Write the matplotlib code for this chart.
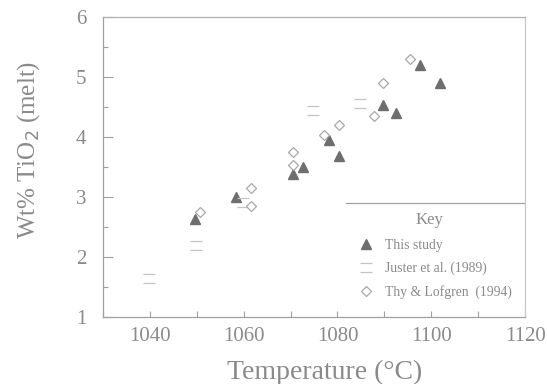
import numpy as np
import matplotlib
matplotlib.use('Agg')
import matplotlib.pyplot as plt
from matplotlib.path import Path

plt.rcParams['font.family'] = ['Liberation Serif', 'DejaVu Serif']

# TiO2 in melt vs temperature
this_study_T = [1049.7, 1058.4, 1070.6, 1072.7, 1078.3, 1080.4, 1089.8, 1092.5, 1097.5, 1101.8]
this_study_ti = [2.64, 3.00, 3.38, 3.51, 3.95, 3.68, 4.54, 4.41, 5.21, 4.91]

juster_T = [1039.8, 1049.9, 1059.9, 1074.8, 1084.9]
juster_ti = [1.65, 2.21, 2.92, 4.46, 4.57]

thy_T = [1050.8, 1061.6, 1061.5, 1070.6, 1070.6, 1077.2, 1080.4, 1087.7, 1089.8, 1095.4]
thy_ti = [2.76, 3.15, 2.86, 3.75, 3.53, 4.04, 4.20, 4.36, 4.91, 5.31]

labels = ['This study', 'Juster et al. (1989)', 'Thy & Lofgren  (1994)']

grey = '#8a8a8a'
frame_col = '#a0a0a0'

# open box drawn as two horizontal bars
bars = Path([(-1, 0.72), (1, 0.72), (-1, -0.72), (1, -0.72)],
            [Path.MOVETO, Path.LINETO, Path.MOVETO, Path.LINETO])

fig = plt.figure(figsize=(5.47, 3.84), dpi=100)
ax = fig.add_axes([0.188, 0.1745, 0.772, 0.78])

ax.plot(this_study_T, this_study_ti, linestyle='none', marker='^', ms=7.5,
        color='#6e6e6e', mec='#6e6e6e', label=labels[0])
ax.plot(juster_T, juster_ti, linestyle='none', marker=bars, ms=9,
        mfc='none', mec='#c4c4c4', mew=0.9, label=labels[1])
ax.plot(thy_T, thy_ti, linestyle='none', marker='D', ms=5.5,
        mfc='white', mec='#a8a8a8', mew=0.9, label=labels[2])

ax.set_xlim(1030, 1120)
ax.set_ylim(1, 6)
ax.set_xticks([1040, 1060, 1080, 1100, 1120])
ax.set_xticks(np.arange(1030, 1121, 10), minor=True)
ax.set_yticks([1, 2, 3, 4, 5, 6])
ax.set_yticks(np.arange(1, 6.01, 0.5), minor=True)

ax.tick_params(which='both', direction='in', colors=frame_col, labelcolor=grey,
               labelsize=15, width=0.8)
ax.tick_params(axis='y', which='major', length=7, pad=12)
ax.tick_params(axis='y', which='minor', length=3.5)
ax.tick_params(axis='x', which='major', length=4, pad=7)
ax.tick_params(axis='x', which='minor', length=4)

for sp in ax.spines.values():
    sp.set_color(frame_col)
    sp.set_linewidth(0.9)
ax.spines['right'].set_color('#c8c8c8')
ax.spines['top'].set_color('#b0b0b0')

ax.set_xlabel('Temperature (\u00b0C)', fontsize=20, color=grey)
ax.set_ylabel('Wt% TiO$_2$ (melt)', fontsize=18, color=grey)
ax.xaxis.set_label_coords(0.525, -0.142)
ax.yaxis.set_label_coords(-0.145, 0.557)

# key box, only its top edge shows
ax.axhline(2.91, xmin=0.575, xmax=1.0, color=frame_col, lw=0.9)
ax.text(0.773, 0.325, 'Key', transform=ax.transAxes, ha='center', va='center',
        fontsize=12, color=grey)

leg = ax.legend(loc='lower left', bbox_to_anchor=(0.569, 0.028),
                frameon=False, fontsize=9.8,
                handletextpad=0.4, labelspacing=0.72, borderaxespad=0.3)
for t in leg.get_texts():
    t.set_color(grey)

fig.savefig('out.png', dpi=100)
